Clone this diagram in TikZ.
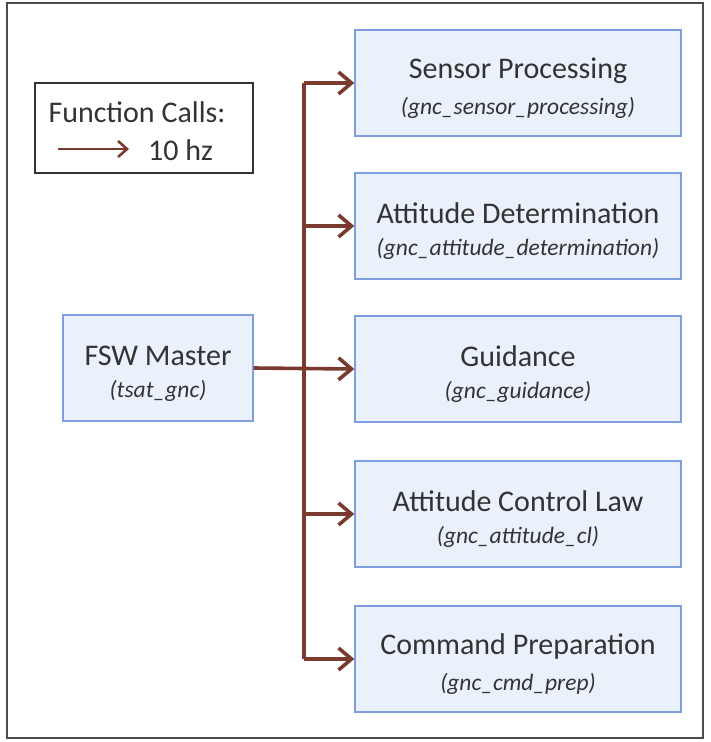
\documentclass[tikz,border=0pt]{standalone}
\usepackage{fontspec}
\setmainfont{Carlito}
\usetikzlibrary{arrows.meta}
\definecolor{callcol}{HTML}{7A3A2E}
\definecolor{boxfill}{HTML}{EAF1FB}
\definecolor{boxline}{HTML}{7F9DE2}
\definecolor{txt}{HTML}{333333}
\tikzset{
  fnbox/.style={draw=boxline, fill=boxfill, line width=1.4pt, minimum width=326pt,
    minimum height=106pt, inner sep=0pt, text=txt, align=center},
  mainbox/.style={fnbox, minimum width=190pt},
  call/.style={draw=callcol, line width=3.6pt, -{Straight Barb[length=13pt,width=22pt,line width=3.6pt]}},
  trunk/.style={draw=callcol, line width=3.6pt}
}
% two-line function label: display name over the italic C function name
\newcommand{\fnlabel}[2]{{\fontsize{30}{30}\selectfont\rule{0pt}{31pt}#1}\\[13pt]{\fontsize{23.5}{23.5}\selectfont\itshape #2}}
\begin{document}
\begin{tikzpicture}[x=1pt,y=-1pt]
  \useasboundingbox (0,0) rectangle (710,742);
  % outer frame
  \draw[draw=black!70, line width=1.5pt] (7,3) rectangle (703,738);

  % legend
  \node[draw=black!80, line width=1.5pt, minimum width=218pt, minimum height=90pt, inner sep=0pt] (legend) at (144,128) {};
  \node[text=txt, font=\fontsize{30}{36}\selectfont, anchor=base] (legtitle) at (137,122) {Function Calls:};
  \node[text=txt, font=\fontsize{30}{36}\selectfont, anchor=base west, inner sep=0pt] (legrate) at (148,160) {10 hz};
  \coordinate (legA) at (58,149);
  \coordinate (legB) at (129,149);
  \draw[draw=callcol, line width=2.6pt, -{Straight Barb[length=9pt,width=16pt,line width=2.6pt]}] (legA) -- (legB);

  % called functions
  \node[fnbox] (sp) at (518,83)  {\fnlabel{Sensor Processing}{(gnc\_sensor\_processing)}};
  \node[fnbox] (ad) at (518,226) {\fnlabel{Attitude Determination}{(gnc\_attitude\_determination)}};
  \node[fnbox] (gd) at (518,369) {\fnlabel{Guidance}{(gnc\_guidance)}};
  \node[fnbox] (cl) at (518,514) {\fnlabel{Attitude Control Law}{(gnc\_attitude\_cl)}};
  \node[fnbox] (cp) at (518,659) {\fnlabel{Command Preparation}{(gnc\_cmd\_prep)}};

  % caller
  \node[mainbox] (fsw) at (158,368) {\fnlabel{FSW Master}{(tsat\_gnc)}};

  % call tree
  \coordinate (top) at (304,83);
  \coordinate (bot) at (304,659);
  \draw[trunk] (top) -- (bot);
  \draw[call] (fsw.east) -- (gd.west);
  \foreach \n in {sp,ad,cl,cp} {
    \draw[call] (\n.west -| top) -- (\n.west);
  }
\end{tikzpicture}
\end{document}
